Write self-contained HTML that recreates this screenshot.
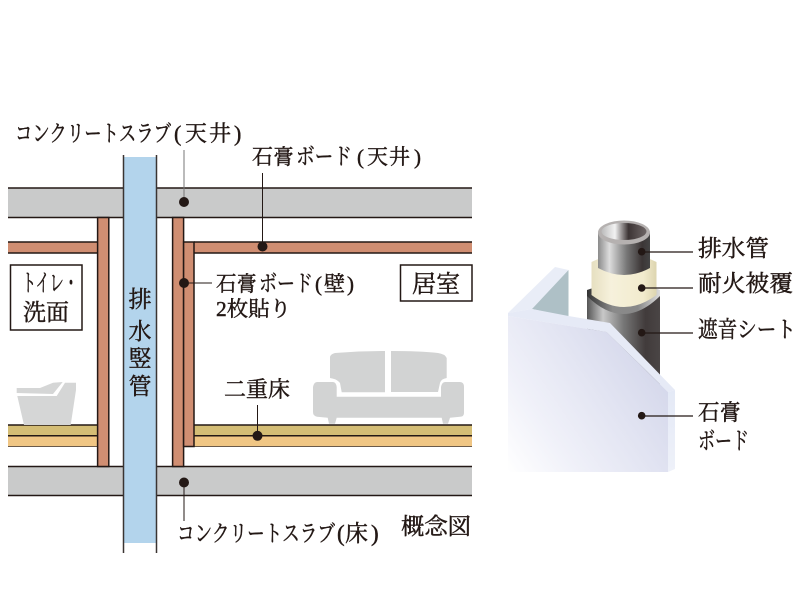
<!DOCTYPE html>
<html lang="ja"><head><meta charset="utf-8">
<style>
html,body{margin:0;padding:0;background:#fff;width:797px;height:598px;overflow:hidden}
svg{display:block}
text{font-family:"Liberation Serif","Noto Serif CJK JP","Noto Serif CJK SC",serif;fill:#231815;stroke:#231815;stroke-width:.45}
</style></head><body>
<svg width="797" height="598" viewBox="0 0 797 598" xmlns="http://www.w3.org/2000/svg">
<defs>
<linearGradient id="pipe" x1="0" x2="1" y1="0" y2="0"><stop offset="0" stop-color="#8a8a8a"/><stop offset=".22" stop-color="#ddd"/><stop offset=".55" stop-color="#777"/><stop offset=".85" stop-color="#3b3535"/><stop offset="1" stop-color="#444"/></linearGradient>
<linearGradient id="hole" x1="0" x2="1" y1="0" y2="0"><stop offset="0" stop-color="#bbb"/><stop offset=".3" stop-color="#f2f2f2"/><stop offset=".6" stop-color="#3c3434"/><stop offset="1" stop-color="#6e6666"/></linearGradient>
<linearGradient id="sheet" x1="0" x2="1" y1="0" y2="0"><stop offset="0" stop-color="#555"/><stop offset=".22" stop-color="#c8c8c8"/><stop offset=".5" stop-color="#777"/><stop offset=".8" stop-color="#413b3b"/><stop offset="1" stop-color="#4a4545"/></linearGradient>
<linearGradient id="rim" x1="0" x2="1" y1="0" y2="0"><stop offset="0" stop-color="#333"/><stop offset=".35" stop-color="#8a8a8a"/><stop offset=".7" stop-color="#888"/><stop offset="1" stop-color="#ddd"/></linearGradient>
<linearGradient id="cover" x1="0" x2="1" y1="0" y2="0"><stop offset="0" stop-color="#e6dfc0"/><stop offset=".3" stop-color="#f6f1dc"/><stop offset=".8" stop-color="#f2ebcd"/><stop offset="1" stop-color="#ddd5b0"/></linearGradient>
<linearGradient id="board" x1="0" y1="1" x2="1" y2="0.35"><stop offset="0" stop-color="#ffffff"/><stop offset=".3" stop-color="#f0f1f9"/><stop offset=".65" stop-color="#e2e4f2"/><stop offset="1" stop-color="#d3d6ea"/></linearGradient>
<linearGradient id="side" x1="0" y1="0" x2="0" y2="1"><stop offset="0" stop-color="#e4e9f6"/><stop offset="1" stop-color="#eef1f9"/></linearGradient>
</defs>

<!-- slabs -->
<g fill="#c9caca">
<rect x="8" y="188" width="115" height="29.500"/><rect x="156" y="188" width="316" height="29.500"/>
<rect x="8" y="466.500" width="115" height="29"/><rect x="156" y="466.500" width="316" height="29"/>
</g>
<path d="M8 188H123M8 217.500H123M156 188H472M156 217.500H472M8 466.500H123M8 495.500H123M156 466.500H472M156 495.500H472" fill="none" stroke="#231815" stroke-width="1.500"/>
<!-- ceiling boards -->
<g fill="#d08e72"><rect x="8" y="242" width="90" height="11"/><rect x="194" y="242" width="278" height="11"/></g>
<path d="M8 242H98M8 253H98M194 242H472M194 253H472" stroke="#231815" stroke-width="1.500" fill="none"/>
<!-- floors -->
<rect x="8" y="425" width="90" height="11" fill="#d4bd75"/><rect x="8" y="436" width="90" height="10.500" fill="#f0c684"/>
<rect x="194" y="425" width="278" height="11" fill="#d4bd75"/><rect x="194" y="436" width="278" height="10.500" fill="#f0c684"/>
<path d="M8 425H98M8 435.800H98M194 425H472M194 435.800H472" stroke="#231815" stroke-width="1.500" fill="none"/>
<path d="M8 446.500H98M194 446.500H472" stroke="#6b5a4a" stroke-width="1" fill="none"/>
<!-- walls -->
<g fill="#d08e72" stroke="#231815" stroke-width="1.500">
<rect x="97.600" y="217.500" width="11.200" height="249"/>
<rect x="172.600" y="217.500" width="11" height="249"/>
<rect x="183.600" y="242" width="10.400" height="204.500"/>
</g>
<!-- stack -->
<rect x="124" y="157" width="32" height="386" fill="#b3d4ec"/>
<path d="M123.500 155V553M156.500 155V553" stroke="#3a3432" stroke-width="1.500" fill="none"/>

<!-- toilet -->
<g fill="#d5d6d6">
<path d="M16.700 388L40 388 53 382.700 62.700 382 53 394 16.700 393Z"/>
<path d="M65 382.700H76V390L70.700 425H24L17.300 396H56.700Z"/>
</g>
<!-- sofa -->
<g fill="#d2d3d3">
<path d="M330 356.700Q331 354 335 353Q360 351 385 351V392.300H341.700L340 383Q337 379 330 378Z"/>
<path d="M391 351Q420 351 438 353Q445 354 446.700 358V378Q441 379 440 383L438 392H391Z"/>
<path d="M313 387Q314 382 317 382H333Q336 382 336.700 387V396.700H441V387Q442 382 445 382H460Q464 382 464 387V413Q464 416.700 460 416.700L450 417.700 448 423.700H443L441.700 417.700H336.700L335 423.700H329L327.700 417.700L317 416.700Q313 416 313 412Z"/>
</g>

<!-- name boxes -->
<rect x="10.500" y="265" width="71.500" height="65" fill="#fff" stroke="#231815" stroke-width="1.500"/>
<rect x="400.500" y="265" width="71.500" height="36" fill="#fff" stroke="#231815" stroke-width="1.500"/>

<!-- leaders -->
<g fill="none" stroke-width="1">
<path d="M184 150V202" stroke="#777"/><path d="M184 283H212" stroke="#231815"/><path d="M262.500 173V246.500" stroke="#231815"/><path d="M257.500 405V436" stroke="#231815"/><path d="M184 482V521" stroke="#231815"/>
</g>
<g fill="#231815">
<circle cx="184" cy="202" r="5"/><circle cx="184" cy="283" r="5"/><circle cx="262.500" cy="246.500" r="5"/><circle cx="257.500" cy="435.800" r="5"/><circle cx="184" cy="482.500" r="5"/>
</g>

<!-- left labels -->
<text x="15" y="141" font-size="23" textLength="156" lengthAdjust="spacingAndGlyphs">コンクリートスラブ</text>
<text x="174 185 209 234" y="141" font-size="22">(天井)</text>
<text x="252" y="164" font-size="21" textLength="42" lengthAdjust="spacingAndGlyphs">石膏</text>
<text x="296" y="164" font-size="23" textLength="56" lengthAdjust="spacingAndGlyphs">ボード</text>
<text x="357 367 389 414" y="164" font-size="21">(天井)</text>
<text x="216" y="291" font-size="21" textLength="41" lengthAdjust="spacingAndGlyphs">石膏</text>
<text x="259" y="291" font-size="23" textLength="54" lengthAdjust="spacingAndGlyphs">ボード</text>
<text x="315 324 347" y="291" font-size="21">(壁)</text>
<text x="216" y="316" font-size="21" textLength="75" lengthAdjust="spacingAndGlyphs">2枚貼り</text>
<text x="224" y="397" font-size="22" textLength="66" lengthAdjust="spacingAndGlyphs">二重床</text>
<text x="177" y="541" font-size="23" textLength="158" lengthAdjust="spacingAndGlyphs">コンクリートスラブ</text>
<text x="337 345 371" y="541" font-size="23">(床)</text>
<text x="401" y="534" font-size="23" textLength="70" lengthAdjust="spacingAndGlyphs">概念図</text>
<text x="22" y="291" font-size="24" textLength="56" lengthAdjust="spacingAndGlyphs">トイレ・</text>
<text x="23" y="320" font-size="23" textLength="46" lengthAdjust="spacingAndGlyphs">洗面</text>
<text x="412" y="292" font-size="24" textLength="48" lengthAdjust="spacingAndGlyphs">居室</text>
<g font-size="23" text-anchor="middle">
<text x="140" y="307">排</text><text x="140" y="339">水</text><text x="140" y="366">竪</text><text x="140" y="394">管</text>
</g>

<!-- right: pipe -->
<path d="M587 292V385H660V292Z" fill="url(#sheet)"/>
<path d="M587 296V290Q623.500 276 660 290V296Q623.500 332 587 296Z" fill="url(#rim)"/>
<path d="M591.500 262V295Q624 319 656.500 295V262Q624 246 591.500 262Z" fill="url(#cover)"/>
<path d="M598 233V268Q624 282 650 268V233Z" fill="url(#pipe)"/>
<ellipse cx="624" cy="232.500" rx="26" ry="12" fill="#b5b1b0"/>
<ellipse cx="624" cy="231.500" rx="22.500" ry="8.500" fill="url(#hole)"/>
<!-- right: board -->
<path d="M508 313L555 267 568.500 270 532 309Z" fill="#e9edf7"/>
<path d="M532 309L568.500 270V317Z" fill="#aec0c6"/>
<path d="M508 313L532 309 568.500 316 610 323 675 390 668 392 606.500 332 508 316Z" fill="#e6eaf6"/>
<path d="M668 392L675 390V469L668 472Z" fill="url(#side)"/>
<path d="M508 316L606.500 332 668 392V472L600 472H508Z" fill="url(#board)"/>

<path d="M642 252H693M642 288H693M642 333H693M642 416H693" stroke="#231815" stroke-width="1.200" fill="none"/>
<g fill="#231815">
<circle cx="641.700" cy="251.700" r="3.800"/><circle cx="641.700" cy="288" r="3.800"/><circle cx="641.700" cy="332.700" r="3.800"/><circle cx="641.700" cy="415.700" r="3.800"/>
</g>
<text x="698" y="256" font-size="23" textLength="71" lengthAdjust="spacingAndGlyphs">排水管</text>
<text x="698" y="291" font-size="23" textLength="95" lengthAdjust="spacingAndGlyphs">耐火被覆</text>
<text x="698" y="337" font-size="23" textLength="98" lengthAdjust="spacingAndGlyphs">遮音シート</text>
<text x="698" y="420" font-size="22" textLength="43" lengthAdjust="spacingAndGlyphs">石膏</text>
<text x="698" y="449" font-size="24" textLength="51" lengthAdjust="spacingAndGlyphs">ボード</text>
</svg>
</body></html>
